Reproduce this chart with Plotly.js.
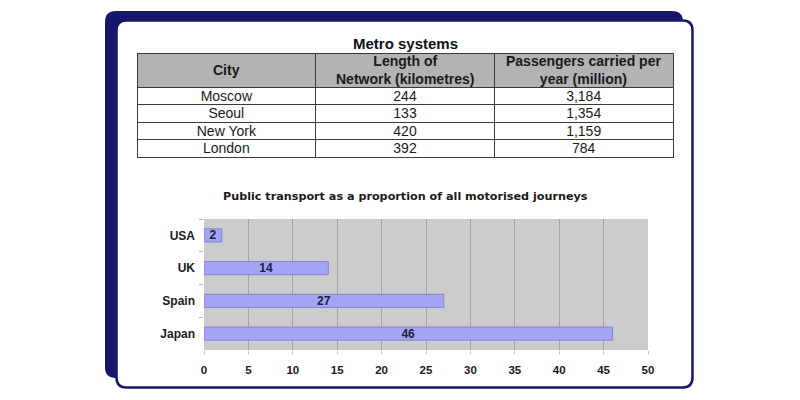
<!DOCTYPE html>
<html>
<head>
<meta charset="utf-8">
<script src="https://cdn.plot.ly/plotly-3.0.1.min.js"></script>
<style>
  html, body { margin: 0; padding: 0; background: #ffffff; }
  #chart { width: 800px; height: 400px; }
</style>
</head>
<body>
<div id="chart"></div>
<script>
// ---- Data ----
const tableTitle = 'Metro systems';
const headerLabels = ['City', 'Length of<br>Network (kilometres)', 'Passengers carried per<br>year (million)'];
const cities = ['Moscow', 'Seoul', 'New York', 'London'];
const networkKm = [244, 133, 420, 392];
const passengersMillion = [3184, 1354, 1159, 784];

const chartTitle = 'Public transport as a proportion of all motorised journeys';
const countries = ['USA', 'UK', 'Spain', 'Japan'];
const publicShare = [2, 14, 27, 46];
const xTicks = [0, 5, 10, 15, 20, 25, 30, 35, 40, 45, 50];

// ---- helpers (pixel -> paper) ----
const W = 800, H = 400;
const px = v => v / W;
const py = v => 1 - v / H;
function roundRect(x0, y0, x1, y1, r) {
  const X = v => px(v).toFixed(5), Y = v => py(v).toFixed(5);
  return `M${X(x0 + r)},${Y(y0)} L${X(x1 - r)},${Y(y0)} Q${X(x1)},${Y(y0)} ${X(x1)},${Y(y0 + r)} ` +
         `L${X(x1)},${Y(y1 - r)} Q${X(x1)},${Y(y1)} ${X(x1 - r)},${Y(y1)} ` +
         `L${X(x0 + r)},${Y(y1)} Q${X(x0)},${Y(y1)} ${X(x0)},${Y(y1 - r)} ` +
         `L${X(x0)},${Y(y0 + r)} Q${X(x0)},${Y(y0)} ${X(x0 + r)},${Y(y0)} Z`;
}

const navy = '#16176a';
const font = 'Liberation Sans, Arial, sans-serif';
const textDark = '#1a1a1a';

// table geometry (pixels)
const tLeft = 137, tRight = 673, tTop = 53, headerH = 34, rowH = 17.5;
const colW = (tRight - tLeft) / headerLabels.length;

const tableTrace = {
  type: 'table',
  domain: { x: [px(tLeft), px(tRight)], y: [0.45, py(tTop)] },
  columnwidth: headerLabels.map(() => 1),
  header: {
    values: headerLabels.map(() => ''),
    align: 'center',
    height: headerH,
    fill: { color: '#b3b3b3' },
    line: { color: '#3a3a3a', width: 1 },
    font: { family: font, size: 14, color: textDark }
  },
  cells: {
    values: [cities, networkKm, passengersMillion],
    format: ['', 'd', ',d'],
    align: 'center',
    height: rowH,
    fill: { color: '#ffffff' },
    line: { color: '#3a3a3a', width: 1 },
    font: { family: font, size: 14, color: textDark }
  }
};

const barTrace = {
  type: 'bar',
  orientation: 'h',
  x: publicShare,
  y: countries,
  text: publicShare.map(v => '<b>' + v + '</b>'),
  textposition: 'inside',
  insidetextanchor: 'middle',
  textangle: 0,
  constraintext: 'none',
  textfont: { family: font, size: 12, color: '#1c1c44' },
  marker: { color: '#a5a5f6', line: { color: '#8383d2', width: 1 } },
  hoverinfo: 'skip',
  xaxis: 'x',
  yaxis: 'y'
};

const headerAnnotations = headerLabels.map((h, i) => ({
  text: '<b>' + h + '</b>', xref: 'paper', yref: 'paper',
  x: px(tLeft + colW * (i + 0.5)), y: py(tTop + headerH / 2),
  xanchor: 'center', yanchor: 'middle', align: 'center', showarrow: false,
  font: { family: font, size: 14, color: textDark }
}));

const layout = {
  width: W, height: H,
  margin: { l: 0, r: 0, t: 0, b: 0 },
  paper_bgcolor: '#ffffff',
  plot_bgcolor: 'rgba(0,0,0,0)',
  showlegend: false,
  bargap: 0.6,
  font: { family: font, color: textDark },
  xaxis: {
    domain: [px(204), px(648)],
    range: [0, 50],
    tickvals: xTicks,
    showgrid: true,
    gridcolor: '#a3a3a3',
    gridwidth: 1,
    zeroline: false,
    showline: false,
    ticks: 'outside',
    ticklen: 3,
    tickcolor: '#c4c4c4',
    ticklabelstandoff: 6,
    tickfont: { family: font, size: 11.5, color: textDark, weight: 'bold' },
    fixedrange: true
  },
  yaxis: {
    domain: [py(350), py(219)],
    type: 'category',
    categoryorder: 'array',
    categoryarray: countries,
    autorange: 'reversed',
    showgrid: false,
    zeroline: false,
    showline: false,
    ticks: 'outside',
    tickson: 'boundaries',
    ticklen: 4,
    tickcolor: '#b5b5b5',
    ticklabelstandoff: 8,
    tickfont: { family: font, size: 12, color: textDark, weight: 'bold' },
    fixedrange: true
  },
  shapes: [
    { type: 'path', xref: 'paper', yref: 'paper', layer: 'below',
      path: roundRect(105, 11, 683, 378, 11), fillcolor: navy, line: { width: 0 } },
    { type: 'path', xref: 'paper', yref: 'paper', layer: 'below',
      path: roundRect(116.5, 20.5, 692.5, 387.5, 10), fillcolor: '#ffffff', line: { color: navy, width: 2.5 } },
    { type: 'rect', xref: 'x domain', yref: 'y domain', layer: 'below',
      x0: 0, x1: 1, y0: 0, y1: 1, fillcolor: '#cccccc', line: { width: 0 } }
  ],
  annotations: [
    { text: '<b>' + tableTitle + '</b>', xref: 'paper', yref: 'paper',
      x: px(405), y: py(44), xanchor: 'center', yanchor: 'middle', showarrow: false,
      font: { family: font, size: 15, color: '#111111' } },
    { text: '<b>' + chartTitle + '</b>', xref: 'paper', yref: 'paper',
      x: px(405), y: py(197), xanchor: 'center', yanchor: 'middle', showarrow: false,
      font: { family: 'DejaVu Sans, Liberation Sans, sans-serif', size: 11.2, color: textDark } }
  ].concat(headerAnnotations)
};

Plotly.newPlot('chart', [tableTrace, barTrace], layout, { displayModeBar: false, staticPlot: true })
  .then(() => {
    // Plotly's table keeps a fixed 8px top padding; nudge body text up so it sits centred in the 17px rows
    document.querySelectorAll('#chart .cell-text').forEach(el => {
      const t = el.getAttribute('transform') || '';
      el.setAttribute('transform', 'translate(0,-5) ' + t);
    });
  });
</script>
</body>
</html>
